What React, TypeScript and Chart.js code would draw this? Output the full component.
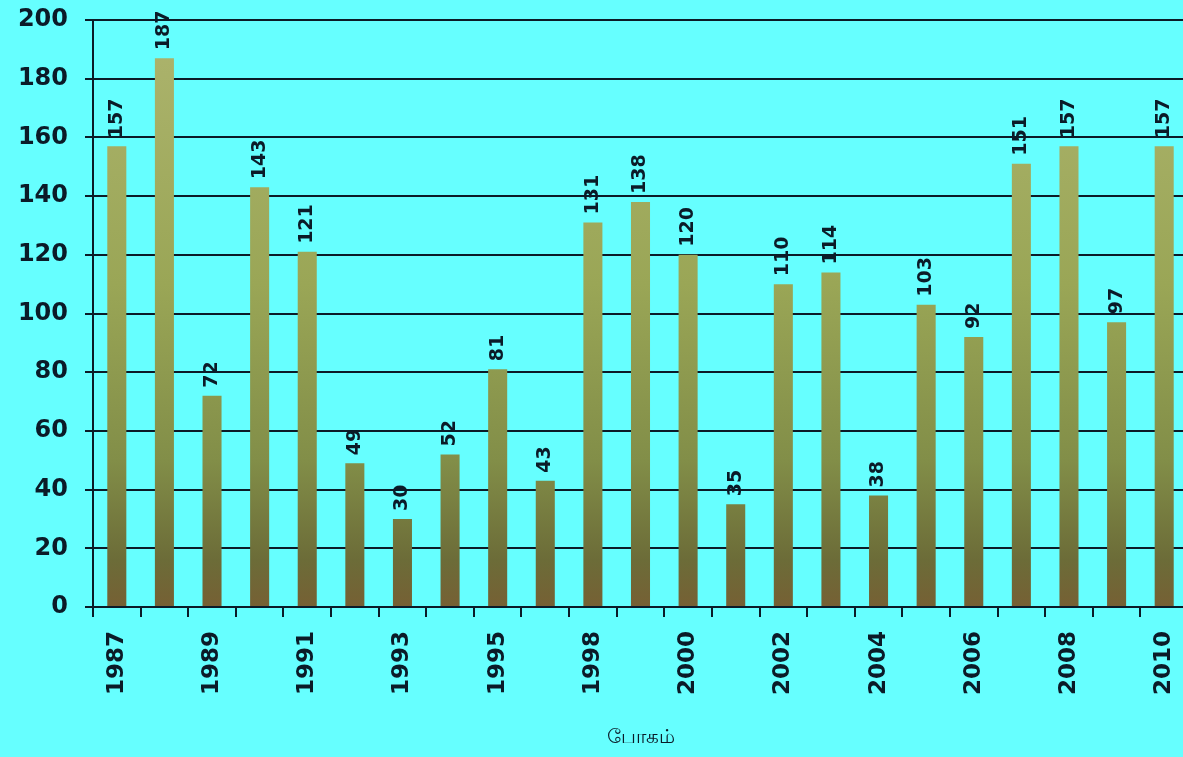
import React, { useEffect, useRef } from "react";
import { Chart, registerables } from "chart.js";

Chart.register(...registerables);

const years: string[] = [
  "1987", "1988", "1989", "1990", "1991", "1992", "1993", "1994", "1995", "1997",
  "1998", "1999", "2000", "2001", "2002", "2003", "2004", "2005", "2006", "2007",
  "2008", "2009", "2010",
];
const values: number[] = [
  157, 187, 72, 143, 121, 49, 30, 52, 81, 43,
  131, 138, 120, 35, 110, 114, 38, 103, 92, 151,
  157, 97, 157,
];
const axisTitle = "போகம்";
const yMin = 0;
const yMax = 200;
const yStep = 20;

const INK = "#0b1b28";
const BG = "#66FFFF";
const FONT = "'DejaVu Sans', 'Liberation Sans', sans-serif";

const valueLabels = {
  id: "valueLabels",
  afterDatasetsDraw(chart: any) {
    const { ctx } = chart;
    const meta = chart.getDatasetMeta(0);
    ctx.save();
    ctx.fillStyle = INK;
    ctx.font = `bold 19px ${FONT}`;
    ctx.textAlign = "left";
    ctx.textBaseline = "middle";
    meta.data.forEach((bar: any, i: number) => {
      const v = chart.data.datasets[0].data[i];
      ctx.save();
      ctx.translate(bar.x, bar.y - 8);
      ctx.rotate(-Math.PI / 2);
      ctx.fillText(String(v), 0, 0);
      ctx.restore();
    });
    ctx.restore();
  },
};

export default function App() {
  const ref = useRef<HTMLCanvasElement | null>(null);

  useEffect(() => {
    document.body.style.margin = "0";
    document.body.style.background = BG;
    const canvas = ref.current;
    if (!canvas) return;
    const chart = new Chart(canvas, {
      type: "bar",
      data: {
        labels: years,
        datasets: [
          {
            data: values,
            borderWidth: 0,
            barPercentage: 0.4,
            categoryPercentage: 1,
            backgroundColor: (c: any) => {
              const ch = c.chart;
              const area = ch.chartArea;
              if (!area) return "#9aa656";
              const g = ch.ctx.createLinearGradient(0, area.top, 0, area.bottom);
              g.addColorStop(0, "#adb46e");
              g.addColorStop(0.45, "#9aa656");
              g.addColorStop(0.75, "#828e48");
              g.addColorStop(0.92, "#6c6c38");
              g.addColorStop(1, "#766034");
              return g;
            },
          },
        ],
      },
      options: {
        responsive: false,
        animation: false,
        devicePixelRatio: 1,
        layout: { padding: { top: 20, left: 0, right: 0, bottom: 0 } },
        plugins: {
          legend: { display: false },
          tooltip: { enabled: false },
        },
        scales: {
          x: {
            offset: true,
            grid: {
              display: true,
              offset: true,
              drawOnChartArea: false,
              drawTicks: true,
              tickLength: 10,
              color: INK,
              lineWidth: 2,
            },
            border: { display: true, color: INK, width: 2 },
            ticks: {
              autoSkip: false,
              minRotation: 90,
              maxRotation: 90,
              padding: 14,
              color: INK,
              font: { family: FONT, size: 23, weight: "bold" },
              callback: (_v: any, i: number) => (i % 2 === 0 ? years[i] : ""),
            },
            title: {
              display: true,
              text: axisTitle,
              color: INK,
              font: { family: "'Noto Sans', 'DejaVu Sans', sans-serif", size: 20 },
              padding: { top: 0, bottom: 8 },
            },
            afterFit: (s: any) => {
              s.height = 150;
              s.paddingLeft = 0;
              s.paddingRight = 0;
            },
          },
          y: {
            min: yMin,
            max: yMax,
            ticks: {
              stepSize: yStep,
              padding: 17,
              color: INK,
              font: { family: FONT, size: 24, weight: "bold" },
            },
            grid: {
              color: INK,
              lineWidth: 2,
              tickLength: 8,
              drawTicks: true,
            },
            border: { display: true, color: INK, width: 2 },
            afterFit: (s: any) => {
              s.width = 93;
              s.paddingTop = 0;
              s.paddingBottom = 0;
            },
          },
        },
      },
      plugins: [valueLabels],
    });
    return () => chart.destroy();
  }, []);

  return (
    <div
      style={{
        position: "absolute",
        left: 0,
        top: 0,
        width: 1183,
        height: 757,
        overflow: "hidden",
        background: BG,
      }}
    >
      <canvas ref={ref} width={1188} height={757} style={{ width: 1188, height: 757, display: "block" }} />
    </div>
  );
}
